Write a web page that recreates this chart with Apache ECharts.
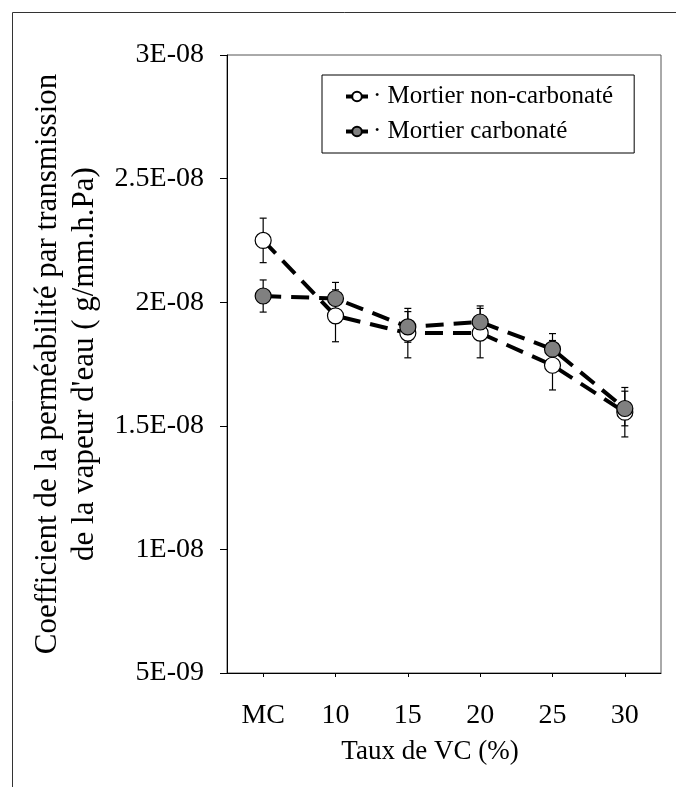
<!DOCTYPE html>
<html>
<head>
<meta charset="utf-8">
<script src="https://cdn.jsdelivr.net/npm/echarts@6/dist/echarts.min.js"></script>
<style>
  html, body { margin: 0; padding: 0; background: #fff; }
  #main { width: 676px; height: 787px; }
</style>
</head>
<body>
<div id="main"></div>
<script>
// donnees
var categories = ['MC', '10', '15', '20', '25', '30'];
var nonCarbonate = [2.25e-8, 1.945e-8, 1.875e-8, 1.875e-8, 1.745e-8, 1.555e-8];
var nonCarbonateErr = [0.9e-9, 1.05e-9, 1.0e-9, 1.0e-9, 1.0e-9, 1.0e-9];
var carbonate = [2.025e-8, 2.015e-8, 1.90e-8, 1.92e-8, 1.81e-8, 1.57e-8];
var carbonateErr = [0.65e-9, 0.65e-9, 0.62e-9, 0.65e-9, 0.63e-9, 0.7e-9];

var FONT = "'Liberation Serif', 'Times New Roman', serif";

// format Excel : 5E-09, 1.5E-08 ...
function sciLabel(v) {
    var s = parseFloat(v.toPrecision(3)).toExponential();
    var parts = s.split('e');
    var exp = parseInt(parts[1], 10);
    var sign = exp < 0 ? '-' : '+';
    var abs = Math.abs(exp);
    return parts[0] + 'E' + sign + (abs < 10 ? '0' + abs : abs);
}

function errorData(values, errs) {
    return values.map(function (v, i) {
        return [i, v - errs[i], v + errs[i]];
    });
}

// barres d'erreur (trait vertical + petits chapeaux)
function renderError(params, api) {
    var x = api.value(0);
    var lo = api.coord([x, api.value(1)]);
    var hi = api.coord([x, api.value(2)]);
    var half = 3.5;
    var style = { stroke: '#000', lineWidth: 1.2 };
    return {
        type: 'group',
        children: [
            { type: 'line', shape: { x1: lo[0], y1: lo[1], x2: hi[0], y2: hi[1] }, style: style },
            { type: 'line', shape: { x1: lo[0] - half, y1: lo[1], x2: lo[0] + half, y2: lo[1] }, style: style },
            { type: 'line', shape: { x1: hi[0] - half, y1: hi[1], x2: hi[0] + half, y2: hi[1] }, style: style }
        ]
    };
}

var chart = echarts.init(document.getElementById('main'));

var lineStyle = { color: '#000', width: 4, type: [18, 10] };

var option = {
    backgroundColor: '#fff',
    animation: false,
    textStyle: { fontFamily: FONT, color: '#000' },
    graphic: [{
        type: 'rect',
        left: 10, top: 10,
        shape: { width: 700, height: 800 },
        style: { fill: 'none', stroke: '#333', lineWidth: 1 },
        silent: true
    }],
    grid: {
        left: 227, right: 15, top: 55, bottom: 114,
        show: true, borderColor: '#555', borderWidth: 1
    },
    legend: {
        orient: 'vertical',
        left: 322, top: 75,
        padding: [9, 21, 9, 22],
        itemGap: 10,
        itemWidth: 22, itemHeight: 12,
        borderColor: '#000', borderWidth: 1,
        backgroundColor: '#fff',
        lineStyle: { type: 'solid', width: 4 },
        data: ['Mortier non-carbonaté', 'Mortier carbonaté'],
        formatter: function (name) { return '\u00b7 ' + name; },
        textStyle: { fontFamily: FONT, fontSize: 25, color: '#000' }
    },
    xAxis: {
        type: 'category',
        data: categories,
        boundaryGap: true,
        axisLine: { lineStyle: { color: '#000', width: 1 } },
        axisTick: { show: true, alignWithLabel: true, length: 4, lineStyle: { color: '#000' } },
        axisLabel: { fontFamily: FONT, fontSize: 28, color: '#000', margin: 29 },
        name: 'Taux de VC (%)',
        nameLocation: 'middle',
        nameGap: 65,
        nameTextStyle: { fontFamily: FONT, fontSize: 27, color: '#000', padding: [0, 28, 0, 0] }
    },
    yAxis: {
        type: 'value',
        min: 5e-9, max: 3e-8, interval: 5e-9,
        axisLine: { show: true, lineStyle: { color: '#000', width: 1 } },
        axisTick: { show: true, length: 7, lineStyle: { color: '#000' } },
        splitLine: { show: false },
        axisLabel: { fontFamily: FONT, fontSize: 28, color: '#000', margin: 23, formatter: sciLabel },
        name: 'Coefficient de la perméabilité par transmission\nde la vapeur d\'eau ( g/mm.h.Pa)',
        nameLocation: 'middle',
        nameGap: 123,
        nameTextStyle: { fontFamily: FONT, fontSize: 31, lineHeight: 37, color: '#000', align: 'center' }
    },
    series: [
        {
            type: 'custom',
            name: 'err-nc',
            renderItem: renderError,
            data: errorData(nonCarbonate, nonCarbonateErr),
            z: 1,
            silent: true
        },
        {
            type: 'custom',
            name: 'err-c',
            renderItem: renderError,
            data: errorData(carbonate, carbonateErr),
            z: 1,
            silent: true
        },
        {
            type: 'line',
            name: 'Mortier non-carbonaté',
            data: nonCarbonate,
            symbol: 'circle',
            symbolSize: 16,
            lineStyle: lineStyle,
            itemStyle: { color: '#fff', borderColor: '#000', borderWidth: 1.2 },
            z: 2
        },
        {
            type: 'line',
            name: 'Mortier carbonaté',
            data: carbonate,
            symbol: 'circle',
            symbolSize: 16,
            lineStyle: lineStyle,
            itemStyle: { color: '#808080', borderColor: '#000', borderWidth: 1.2 },
            z: 2
        }
    ]
};

chart.setOption(option);
</script>
</body>
</html>
